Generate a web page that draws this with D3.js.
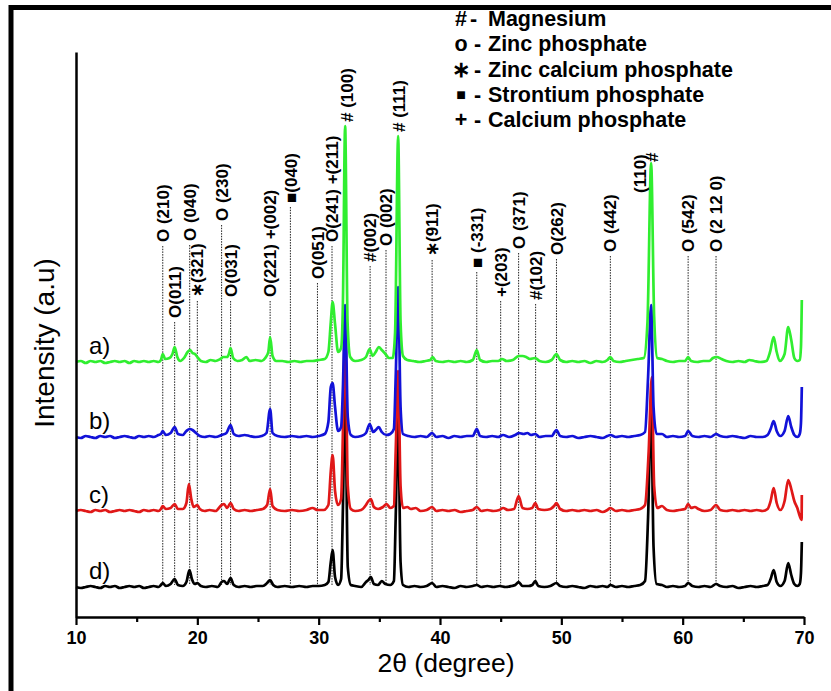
<!DOCTYPE html>
<html>
<head>
<meta charset="utf-8">
<script src="https://cdn.jsdelivr.net/npm/d3@7"></script>
<style>
  body { margin: 0; background: #fff; }
  svg { display: block; font-family: "Liberation Sans", Arial, sans-serif; }
</style>
</head>
<body>
<svg width="831" height="691"></svg>
<script>
// XRD patterns, intensity in a.u. above each pattern's own baseline
const patternA = [[10,0],[10.4,1],[10.8,-1],[11.2,1],[11.6,0],[12,1],[12.4,-1],[12.8,0],[13.2,1],[13.6,0],[14,1],[14.4,-1],[14.8,1],[15.2,0],[15.6,1],[16,0],[16.4,1],[16.8,0],
  [17.0,2],[17.15,8],[17.35,3],[17.7,4],[17.95,8],[18.13,15],[18.35,5],[18.6,1],[18.9,4],[19.2,10],[19.4,12],[19.6,9],[19.8,8],[20.0,5],[20.3,1],[20.7,0],[21.1,2],[21.5,1],[21.9,3],[22.15,5],[22.45,5],[22.6,8],[22.74,14],[22.95,4],[23.3,1],[23.7,2],[24.05,5],[24.3,1],[24.8,2],[25.3,1],[25.6,4],[25.85,10],[26.0,25],[26.2,6],[26.5,1],[27.0,1],[27.5,0],[28.0,1],[28.5,0],[29.0,1],[29.5,1],[30.0,2],[30.5,3],[30.8,10],[31.0,40],[31.15,60],[31.35,38],[31.6,10],[31.85,14],[32.0,60],[32.18,236],[32.38,40],[32.6,5],[33.0,1],[33.5,2],[33.9,5],[34.2,13],[34.45,6],[34.7,10],[34.95,15],[35.2,12],[35.5,8],[35.8,4],[36.1,4],[36.3,30],[36.55,226],[36.75,40],[36.95,6],[37.3,2],[37.8,1],[38.3,0],[38.8,1],[39.2,2],[39.4,5],[39.65,1],[40.2,0],[40.7,1],[41.2,0],[41.7,1],[42.2,0],[42.7,2],[43.03,12],[43.3,2],[43.8,0],[44.3,1],[44.8,1],[45.1,3],[45.5,1],[46.0,2],[46.5,6],[46.8,6],[47.1,5],[47.4,3],[47.85,4],[48.2,1],[48.7,0],[49.2,2],[49.6,8],[49.9,2],[50.4,0],[50.9,1],[51.4,0],[51.9,1],[52.4,-1],[52.9,1],[53.4,0],[53.8,2],[54.04,5],[54.3,1],[54.8,0],[55.3,1],[55.8,2],[56.3,3],[56.8,4],[57.1,40],[57.4,199],[57.65,45],[57.9,4],[58.3,3],[58.7,1],[59.2,0],[59.7,1],[60.2,1],[60.45,5],[60.7,1],[61.2,0],[61.7,1],[62.2,1],[62.5,4],[62.8,5],[63.2,3],[63.6,1],[64.1,0],[64.6,1],[65.1,0],[65.5,2],[65.9,1],[66.4,0],[66.9,1],[67.2,10],[67.5,25],[67.75,10],[68.0,1],[68.4,8],[68.7,35],[68.95,22],[69.2,4],[69.45,1],[69.65,2],[69.75,15],[69.82,62]];

const patternB = [[10,0],[10.4,-1],[10.8,1],[11.2,0],[11.6,-1],[12,1],[12.4,0],[12.8,1],[13.2,-1],[13.6,0],[14,1],[14.4,0],[14.8,-1],[15.2,1],[15.6,0],[16,1],[16.4,0],[16.8,2],
  [17.0,3],[17.15,6],[17.4,2],[17.8,4],[18.13,10],[18.4,3],[18.8,2],[19.1,6],[19.37,8],[19.6,7],[19.9,4],[20.2,1],[20.6,0],[21.0,1],[21.5,0],[22.0,2],[22.4,4],[22.74,12],[23.0,3],[23.4,1],[23.9,2],[24.3,1],[24.8,0],[25.3,1],[25.7,4],[26.0,28],[26.2,4],[26.6,1],[27.2,0],[27.8,1],[28.4,0],[29,1],[29.5,0],[30,1],[30.5,3],[30.8,15],[31.0,50],[31.15,54],[31.35,30],[31.6,6],[31.85,10],[32.0,50],[32.18,132],[32.4,20],[32.65,2],[33.0,0],[33.5,1],[33.9,4],[34.2,13],[34.5,5],[34.7,7],[34.95,10],[35.2,5],[35.6,2],[35.9,3],[36.2,8],[36.35,60],[36.55,150],[36.75,30],[36.95,3],[37.4,1],[37.9,0],[38.4,1],[38.9,0],[39.35,4],[39.7,0],[40.2,1],[40.7,-1],[41.2,1],[41.7,0],[42.2,1],[42.7,1],[43.03,8],[43.3,1],[43.8,0],[44.3,1],[44.8,0],[45.2,2],[45.7,0],[46.2,2],[46.5,4],[46.9,3],[47.2,4],[47.5,2],[47.85,3],[48.2,0],[48.7,1],[49.2,1],[49.6,7],[49.9,1],[50.4,0],[50.9,1],[51.4,-1],[51.9,0],[52.4,1],[52.9,0],[53.4,-1],[53.8,1],[54.04,2],[54.5,0],[55,1],[55.5,0],[56,1],[56.5,2],[56.9,5],[57.15,60],[57.4,132],[57.6,30],[57.85,3],[58.3,3],[58.7,0],[59.2,1],[59.7,0],[60.2,1],[60.45,6],[60.8,1],[61.3,0],[61.8,1],[62.3,0],[62.75,3],[63.1,1],[63.6,0],[64.1,1],[64.6,0],[65.1,-1],[65.6,1],[66.1,0],[66.6,0],[67.0,2],[67.25,8],[67.5,16],[67.75,6],[68.05,1],[68.4,6],[68.7,21],[68.95,10],[69.2,2],[69.45,0],[69.65,3],[69.75,14],[69.82,50]];

const patternC = [[10,0],[10.4,1],[10.8,0],[11.2,-1],[11.6,1],[12,0],[12.4,1],[12.8,-1],[13.2,0],[13.6,1],[14,0],[14.4,1],[14.8,0],[15.2,-1],[15.6,1],[16,0],[16.4,1],[16.8,0],
  [17.0,2],[17.15,5],[17.4,2],[17.8,3],[18.13,7],[18.4,2],[18.8,2],[19.1,8],[19.3,27],[19.5,12],[19.7,4],[20.0,6],[20.2,2],[20.6,0],[21.0,1],[21.5,0],[22.0,6],[22.2,7],[22.45,3],[22.74,8],[23.0,2],[23.4,0],[23.9,1],[24.4,0],[24.9,1],[25.4,2],[25.75,6],[26.0,22],[26.2,5],[26.6,1],[27.2,0],[27.8,1],[28.4,0],[29.0,1],[29.5,3],[29.9,1],[30.4,1],[30.8,6],[31.0,40],[31.15,56],[31.35,20],[31.6,6],[31.85,12],[32.0,80],[32.18,190],[32.4,25],[32.65,2],[33.0,0],[33.5,1],[33.9,6],[34.1,10],[34.3,12],[34.55,4],[34.9,2],[35.3,4],[35.6,7],[35.9,3],[36.2,5],[36.35,60],[36.55,140],[36.75,25],[36.95,3],[37.3,4],[37.6,2],[38.0,3],[38.4,0],[38.9,1],[39.35,4],[39.7,0],[40.2,1],[40.7,0],[41.2,1],[41.7,-1],[42.2,0],[42.7,1],[43.03,4],[43.4,0],[43.9,1],[44.4,0],[44.9,1],[45.2,3],[45.6,1],[46.1,2],[46.48,15],[46.8,3],[47.2,2],[47.6,3],[47.85,8],[48.1,2],[48.6,1],[49.1,2],[49.4,5],[49.6,8],[49.9,2],[50.4,0],[50.9,1],[51.4,0],[51.9,1],[52.4,0],[52.9,1],[53.4,-1],[53.8,1],[54.04,3],[54.5,0],[55,1],[55.5,0],[56,1],[56.5,2],[56.9,6],[57.2,60],[57.45,134],[57.65,25],[57.9,3],[58.3,5],[58.7,1],[59.2,0],[59.7,1],[60.2,2],[60.45,7],[60.7,3],[61.0,4],[61.3,2],[61.8,0],[62.3,1],[62.75,6],[63.1,1],[63.6,0],[64.1,1],[64.6,0],[65.1,1],[65.6,0],[66.1,1],[66.6,0],[67.0,2],[67.25,10],[67.5,23],[67.75,8],[68.05,1],[68.4,10],[68.7,31],[68.95,22],[69.2,10],[69.45,3],[69.65,-5],[69.8,-9],[69.82,16]];

const patternD = [[10,0],[10.4,-1],[10.8,0],[11.2,1],[11.6,0],[12,-1],[12.4,1],[12.8,0],[13.2,1],[13.6,-1],[14,0],[14.4,1],[14.8,0],[15.2,1],[15.6,-1],[16,0],[16.4,1],[16.8,0],
  [17.0,2],[17.15,4],[17.4,1],[17.8,3],[18.13,8],[18.4,2],[18.8,1],[19.1,5],[19.35,17],[19.55,8],[19.8,3],[20.0,4],[20.3,1],[20.7,0],[21.2,1],[21.7,0],[22.0,5],[22.2,6],[22.45,3],[22.74,9],[23.0,2],[23.4,0],[23.9,1],[24.4,0],[24.9,1],[25.4,1],[25.75,4],[26.0,7],[26.25,2],[26.6,0],[27.2,1],[27.8,0],[28.4,1],[29.0,0],[29.5,1],[30.0,1],[30.5,2],[30.8,5],[31.0,25],[31.15,37],[31.35,10],[31.6,2],[31.85,8],[32.0,80],[32.18,200],[32.4,20],[32.65,2],[33.0,1],[33.5,0],[33.9,5],[34.1,7],[34.3,10],[34.55,3],[34.9,2],[35.2,6],[35.5,3],[35.9,2],[36.2,6],[36.35,70],[36.55,170],[36.75,25],[36.95,2],[37.4,0],[37.9,1],[38.4,0],[38.9,1],[39.35,4],[39.7,0],[40.2,1],[40.7,0],[41.2,-1],[41.7,1],[42.2,0],[42.7,1],[43.03,2],[43.4,0],[43.9,1],[44.4,0],[44.9,1],[45.4,0],[45.9,1],[46.2,2],[46.48,5],[46.8,1],[47.3,1],[47.6,2],[47.85,6],[48.1,1],[48.6,0],[49.1,1],[49.6,4],[49.9,1],[50.4,0],[50.9,1],[51.4,0],[51.9,-1],[52.4,1],[52.9,0],[53.4,1],[53.8,0],[54.04,2],[54.5,0],[55,1],[55.5,0],[56,1],[56.5,2],[56.9,6],[57.15,70],[57.4,180],[57.6,40],[57.85,3],[58.3,2],[58.7,0],[59.2,1],[59.7,0],[60.2,1],[60.45,4],[60.8,1],[61.3,0],[61.8,1],[62.3,0],[62.75,3],[63.1,1],[63.6,0],[64.1,1],[64.6,-1],[65.1,0],[65.6,1],[66.1,0],[66.6,1],[67.0,2],[67.25,8],[67.5,17],[67.75,5],[68.05,1],[68.4,6],[68.7,24],[68.95,12],[69.2,3],[69.45,1],[69.65,3],[69.75,14],[69.82,45]];

const seriesNames = ['a)', 'b)', 'c)', 'd)'];
const seriesData = [patternA, patternB, patternC, patternD];
const seriesOffsets = [255, 180, 106, 30];
const seriesColors = ['#30ee30', '#1212d8', '#e01818', '#000000'];

// peak annotations: [2theta, text, level (a.u.) of label foot, dotted guide?]
const peakLabels = [
  [17.15, 'O (210)', 375, true],
  [18.13, 'O(011)', 299, true],
  [19.37, 'O (040)', 376, true],
  [20.0, '\u2217(321)', 320, true],
  [22.0, 'O (230)', 396, true],
  [22.74, 'O(031)', 320, true],
  [26.0, 'O(221) +(002)', 320, true],
  [27.67, '\u25A0(040)', 414, true],
  [29.9, 'O(051)', 338, true],
  [31.1, 'O(241) +(211)', 375, true],
  [32.3, '# (100)', 495, false],
  [34.24, '#(002)', 355, true],
  [35.55, 'O (002)', 371, true],
  [36.65, '# (111)', 485, false],
  [39.35, '\u2217(911)', 361, true],
  [43.03, '\u25A0 (-331)', 349, true],
  [45.0, '+(203)', 320, true],
  [46.48, 'O (371)', 368, true],
  [47.88, '#(102)', 317, true],
  [49.6, 'O(262)', 362, true],
  [54.04, 'O (442)', 365, true],
  [56.45, '(110)', 424, false],
  [57.45, '#', 455, false],
  [60.45, 'O (542)', 365, true],
  [62.75, 'O (2 12 0)', 365, true]
];
const guideFoot = 32;

const legendSymbols = ['#', 'o', '\u2217', '\u25A0', '+'];
const legendNames = ['Magnesium', 'Zinc phosphate', 'Zinc calcium phosphate', 'Strontium phosphate', 'Calcium phosphate'];

const majorTicks = [10, 20, 30, 40, 50, 60, 70];
const minorTicks = [15, 25, 35, 45, 55, 65];

const svg = d3.select('svg');

// outer frame
svg.append('rect')
  .attr('x', 11).attr('y', 7.5)
  .attr('width', 1000).attr('height', 1000)
  .attr('fill', 'none').attr('stroke', '#000').attr('stroke-width', 5);

const x = d3.scaleLinear().domain([10, 70]).range([76, 804]);
const y = d3.scaleLinear().domain([0, 565]).range([617, 52]);

// dotted guide lines
svg.append('g').selectAll('line')
  .data(peakLabels.filter(d => d[3]))
  .enter().append('line')
  .attr('x1', d => x(d[0])).attr('x2', d => x(d[0]))
  .attr('y1', d => y(d[2] - 4)).attr('y2', y(guideFoot))
  .attr('stroke', '#222').attr('stroke-width', 1)
  .attr('stroke-dasharray', '1.5,1.2');

// patterns, black first so green ends on top
const line = d3.line()
  .x(d => x(d[0]))
  .curve(d3.curveMonotoneX);

for (let i = seriesData.length - 1; i >= 0; i--) {
  svg.append('path')
    .datum(seriesData[i])
    .attr('fill', 'none')
    .attr('stroke', seriesColors[i])
    .attr('stroke-width', 2.7)
    .attr('stroke-linejoin', 'round')
    .attr('d', line.y(d => y(d[1] + seriesOffsets[i])));
}

// axes
const xAxis = svg.append('g')
  .attr('transform', `translate(0,${y(0)})`)
  .call(d3.axisBottom(x).tickValues(majorTicks).tickSize(8).tickSizeOuter(0).tickPadding(6));
xAxis.select('.domain').attr('stroke-width', 2.5);
xAxis.selectAll('.tick line').attr('stroke-width', 2.2);
xAxis.selectAll('.tick text')
  .attr('font-size', 18).attr('font-weight', 'bold')
  .attr('font-family', '"Liberation Sans", Arial, sans-serif');

svg.append('g')
  .attr('transform', `translate(0,${y(0)})`)
  .call(d3.axisBottom(x).tickValues(minorTicks).tickSize(5).tickSizeOuter(0).tickFormat(''))
  .call(g => g.select('.domain').remove())
  .selectAll('.tick line').attr('stroke-width', 2.2);

svg.append('g')
  .attr('transform', `translate(${x(10)},0)`)
  .call(d3.axisLeft(y).tickValues([]).tickSizeOuter(0))
  .select('.domain').attr('stroke-width', 2.5);

// axis titles
svg.append('text')
  .attr('x', 446).attr('y', 672)
  .attr('text-anchor', 'middle')
  .attr('font-size', 26.5)
  .text('2\u03B8 (degree)');

svg.append('text')
  .attr('transform', 'translate(54,343) rotate(-90)')
  .attr('text-anchor', 'middle')
  .attr('font-size', 28)
  .text('Intensity (a.u)');

// pattern labels
svg.append('g').selectAll('text')
  .data(seriesNames)
  .enter().append('text')
  .attr('x', 89)
  .attr('y', (d, i) => y(seriesOffsets[i]) - 8)
  .attr('font-size', 24)
  .text(d => d);

// peak labels
svg.append('g').selectAll('text')
  .data(peakLabels)
  .enter().append('text')
  .attr('transform', d => `translate(${x(d[0])},${y(d[2])}) rotate(-90)`)
  .attr('dy', '0.36em')
  .attr('font-size', 17)
  .attr('font-weight', 'bold')
  .text(d => d[1]);

// legend
const legend = svg.append('g')
  .attr('font-size', 21.5)
  .attr('font-weight', 'bold');
legend.selectAll('.sym')
  .data(legendSymbols)
  .enter().append('text')
  .attr('class', 'sym')
  .attr('x', 461).attr('text-anchor', 'middle')
  .attr('y', (d, i) => 26 + i * 25.3)
  .attr('font-size', (d, i) => i === 3 ? 16 : 21.5)
  .attr('dy', (d, i) => i === 3 ? -2 : 0)
  .text(d => d);
legend.selectAll('.dash')
  .data(legendNames)
  .enter().append('text')
  .attr('class', 'dash')
  .attr('x', (d, i) => i === 0 ? 470 : 474)
  .attr('y', (d, i) => 26 + i * 25.3)
  .text('-');
legend.selectAll('.name')
  .data(legendNames)
  .enter().append('text')
  .attr('class', 'name')
  .attr('x', 488)
  .attr('y', (d, i) => 26 + i * 25.3)
  .text(d => d);
</script>
</body>
</html>
